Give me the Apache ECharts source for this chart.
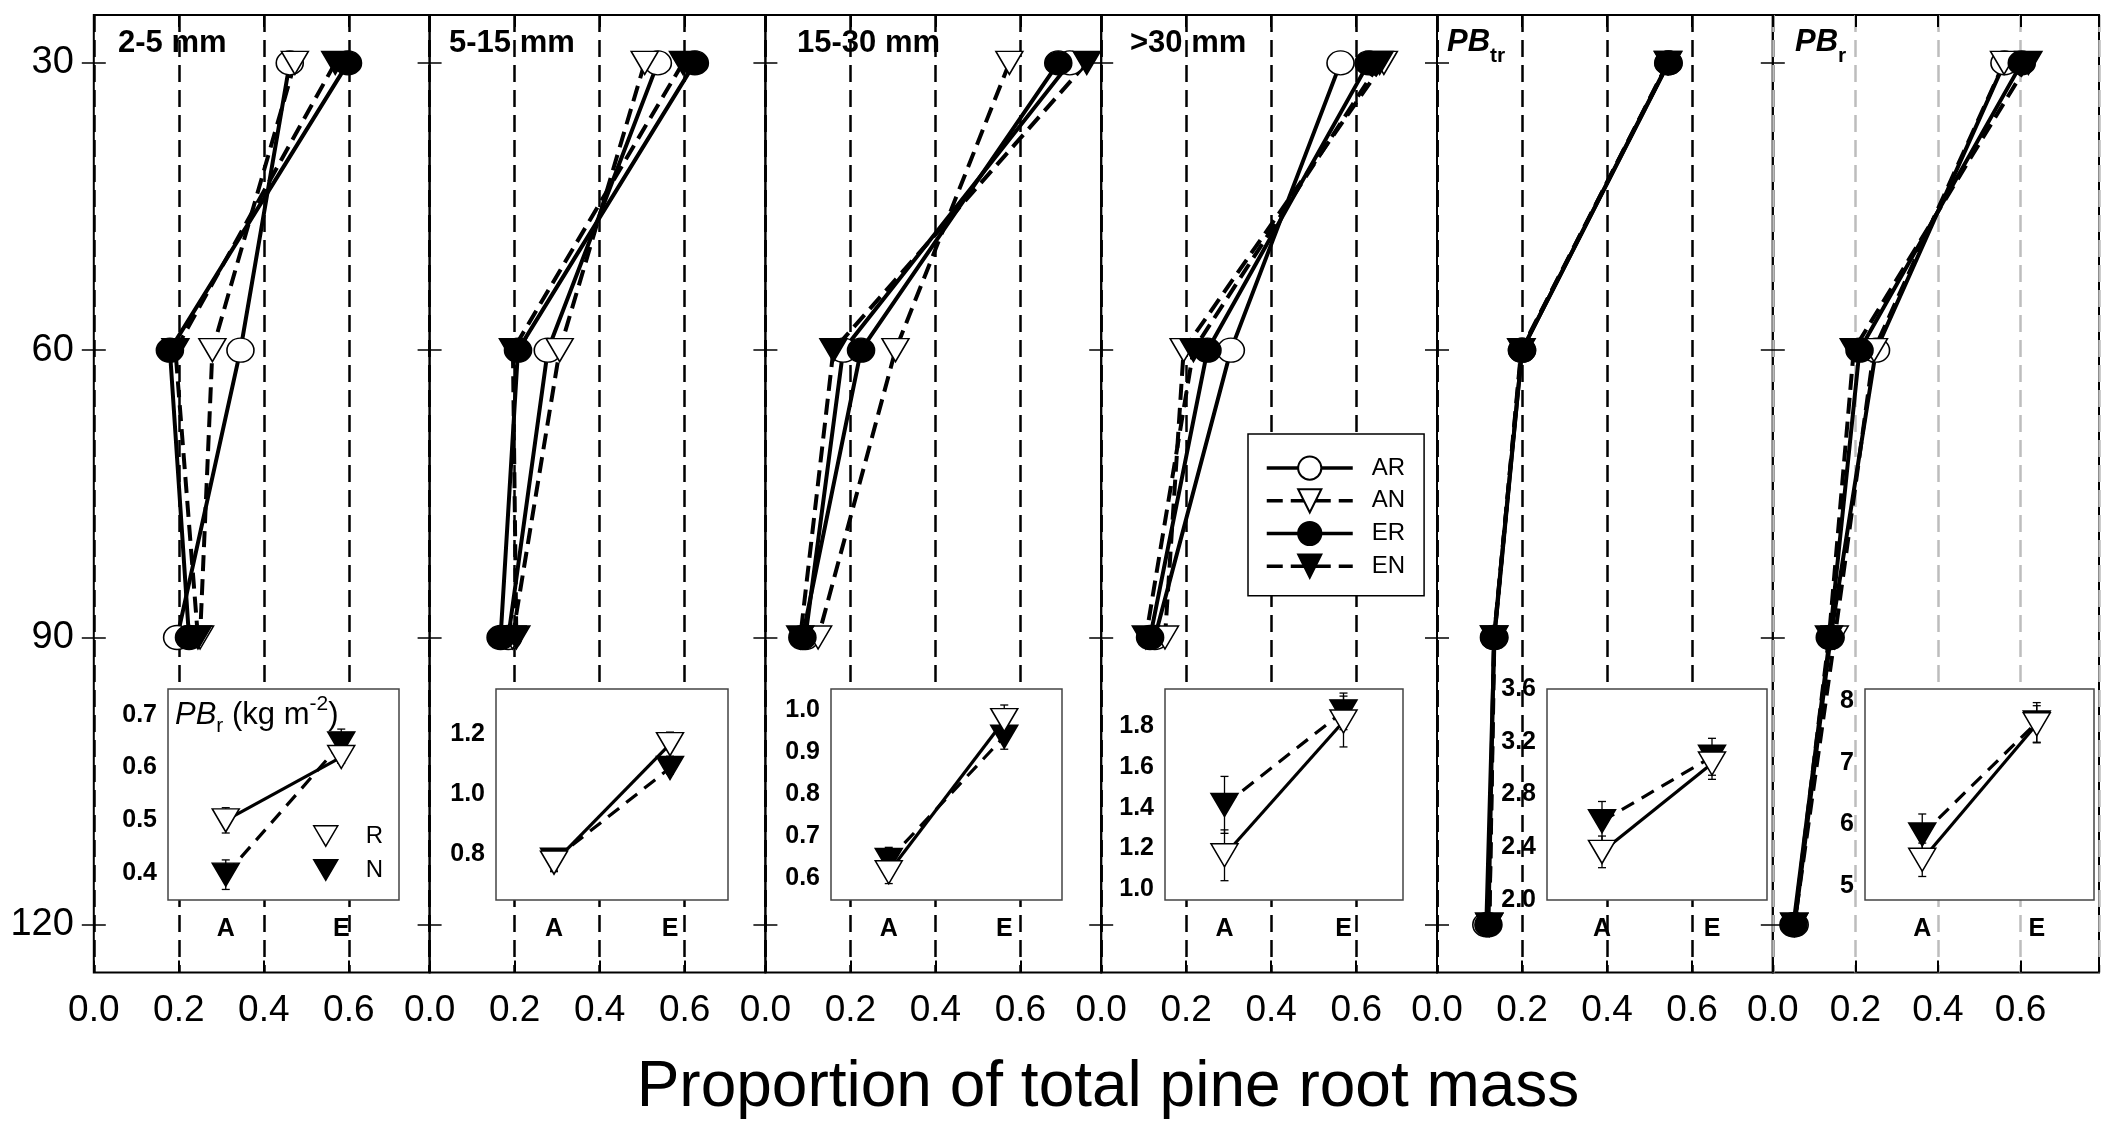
<!DOCTYPE html>
<html>
<head>
<meta charset="utf-8">
<title>Proportion of total pine root mass</title>
<script src="https://cdn.jsdelivr.net/npm/echarts@6/dist/echarts.min.js"></script>
<style>
  html, body { margin: 0; padding: 0; background: #fff; }
  #chart { width: 2102px; height: 1131px; }
</style>
</head>
<body>
<div id="chart"></div>
<script>
// soil depth (cm) of each layer and the ticks on the depth axis
const depths = [30, 60, 90, 120];
const depthTicks = [30, 60, 90, 120];
const treatments = ['AR', 'AN', 'ER', 'EN'];

// share of total pine root mass per layer; one row per panel:
// 2-5 mm, 5-15 mm, 15-30 mm, >30 mm, PBtr, PBr
const shareAR = [
  [0.461, 0.345, 0.196],
  [0.537, 0.278, 0.185],
  [0.716, 0.183, 0.094],
  [0.563, 0.305, 0.126],
  [0.544, 0.200, 0.135, 0.116],
  [0.561, 0.250, 0.140, 0.053]
];
const shareAN = [
  [0.473, 0.279, 0.250],
  [0.506, 0.306, 0.195],
  [0.574, 0.306, 0.124],
  [0.665, 0.194, 0.150],
  [0.543, 0.199, 0.134, 0.123],
  [0.560, 0.245, 0.150, 0.052]
];
const shareER = [
  [0.598, 0.179, 0.224],
  [0.624, 0.208, 0.167],
  [0.689, 0.225, 0.087],
  [0.629, 0.250, 0.115],
  [0.545, 0.200, 0.134, 0.121],
  [0.603, 0.210, 0.138, 0.050]
];
const shareEN = [
  [0.568, 0.192, 0.245],
  [0.596, 0.196, 0.204],
  [0.756, 0.160, 0.082],
  [0.655, 0.217, 0.105],
  [0.544, 0.198, 0.135, 0.123],
  [0.619, 0.196, 0.136, 0.052]
];

// inset: pine root biomass (kg m-2) for A and E, R and N, with error
const insetCats = ['A', 'E'];
const pbR = [[0.500, 0.620], [0.772, 1.165], [0.614, 0.975], [1.167, 1.825], [2.365, 3.035], [5.43, 7.62]];
const pbRErr = [[0.024, 0.012], [0.030, 0.040], [0.027, 0.036], [0.125, 0.125], [0.120, 0.120], [0.27, 0.30]];
const pbN = [[0.397, 0.646], [0.782, 1.086], [0.643, 0.936], [1.415, 1.875], [2.597, 3.086], [5.84, 7.65]];
const pbNErr = [[0.028, 0.027], [0.035, 0.020], [0.030, 0.030], [0.140, 0.090], [0.150, 0.140], [0.33, 0.32]];
const insetTicks = [
  [0.4, 0.5, 0.6, 0.7],
  [0.8, 1.0, 1.2],
  [0.6, 0.7, 0.8, 0.9, 1.0],
  [1.0, 1.2, 1.4, 1.6, 1.8],
  [2.0, 2.4, 2.8, 3.2, 3.6],
  [5, 6, 7, 8]
];

// ---- layout ----
const FONT = '"Liberation Sans", Arial, Helvetica, sans-serif';
const PANEL_LEFT = 93.8, PANEL_W = 335.8, PANEL_TOP = 15, PANEL_H = 957.6;
const X_MAX = 0.79;
const insetBox = [[168, 231], [496, 232], [831, 231], [1165, 238], [1547, 220], [1865, 229]];
const insetRange = [[0.349, 0.749], [0.648, 1.348], [0.548, 1.049], [0.947, 1.985], [2.0, 3.6], [4.78, 8.19]];
const INSET_TOP = 689, INSET_H = 211;
const TRI = 'path://M0,0L20,0L10,17Z';
const DASH = [16, 8];

const look = {
  AR: { symbol: 'circle', size: [27, 24], fill: '#fff', dash: 'solid' },
  AN: { symbol: TRI, size: [27, 23], fill: '#fff', dash: DASH },
  ER: { symbol: 'circle', size: [27, 24], fill: '#000', dash: 'solid' },
  EN: { symbol: TRI, size: [27, 23], fill: '#000', dash: DASH }
};
const shares = { AR: shareAR, AN: shareAN, ER: shareER, EN: shareEN };
const drawOrder = ['AR', 'AN', 'EN', 'ER'];

const grids = [], xAxes = [], yAxes = [], series = [];

function errorBars(params, api) {
  const lo = api.coord([api.value(0), api.value(1)]);
  const hi = api.coord([api.value(0), api.value(2)]);
  const st = { stroke: '#000', lineWidth: 1.3 };
  return {
    type: 'group',
    children: [
      { type: 'line', shape: { x1: lo[0], y1: lo[1], x2: hi[0], y2: hi[1] }, style: st },
      { type: 'line', shape: { x1: lo[0] - 4, y1: lo[1], x2: lo[0] + 4, y2: lo[1] }, style: st },
      { type: 'line', shape: { x1: hi[0] - 4, y1: hi[1], x2: hi[0] + 4, y2: hi[1] }, style: st }
    ]
  };
}

for (let i = 0; i < 6; i++) {
  // main panel
  const g = grids.length;
  grids.push({
    left: PANEL_LEFT + i * PANEL_W, top: PANEL_TOP, width: PANEL_W, height: PANEL_H,
    show: true, borderColor: '#000', borderWidth: 2, backgroundColor: 'transparent'
  });
  const xb = xAxes.length;
  xAxes.push({
    gridIndex: g, type: 'value', position: 'bottom', min: 0, max: X_MAX, interval: 0.2,
    axisLine: { show: false },
    axisTick: { inside: true, length: 12, lineStyle: { color: '#000', width: 2 } },
    splitLine: { show: true, lineStyle: { color: i === 5 ? '#bdbdbd' : '#000', width: 2.5, type: [17, 8] } },
    axisLabel: {
      margin: 20, fontSize: 37, color: '#000', fontFamily: FONT,
      formatter: v => (v > 0.7 ? '' : v.toFixed(1))
    }
  });
  xAxes.push({
    gridIndex: g, type: 'value', position: 'top', min: 0, max: X_MAX, interval: 0.2,
    axisLine: { show: false }, splitLine: { show: false }, axisLabel: { show: false },
    axisTick: { inside: true, length: 12, lineStyle: { color: '#000', width: 2 } }
  });
  const yl = yAxes.length;
  yAxes.push({
    gridIndex: g, type: 'value', position: 'left', inverse: true, min: 25, max: 125, z: 1,
    axisLine: { show: false }, splitLine: { show: false },
    axisTick: { inside: true, length: 12, customValues: depthTicks, lineStyle: { color: '#000', width: 1.5 } },
    axisLabel: {
      show: i === 0, customValues: depthTicks, margin: 20, fontSize: 38, color: '#000', fontFamily: FONT
    }
  });
  yAxes.push({
    gridIndex: g, type: 'value', position: 'right', inverse: true, min: 25, max: 125, z: 1,
    axisLine: { show: false }, splitLine: { show: false }, axisLabel: { show: false },
    axisTick: { inside: true, length: 12, customValues: depthTicks, lineStyle: { color: '#000', width: 1.5 } }
  });
  if (i === 0) {
    yAxes.push({
      gridIndex: g, type: 'value', position: 'left', inverse: true, min: 25, max: 125, z: 1,
      axisLine: { show: false }, splitLine: { show: false }, axisLabel: { show: false },
      axisTick: { inside: false, length: 8, customValues: depthTicks, lineStyle: { color: '#000', width: 1.5 } }
    });
  }

  drawOrder.forEach(name => {
    const lk = look[name];
    series.push({
      name: name, type: 'line', xAxisIndex: xb, yAxisIndex: yl, z: 2,
      data: shares[name][i].map((v, k) => [v, depths[k]]),
      symbol: lk.symbol, symbolSize: lk.size, showAllSymbol: true,
      lineStyle: { color: '#000', width: 4, type: lk.dash },
      itemStyle: { color: lk.fill, borderColor: '#000', borderWidth: 1.5 },
      emphasis: { disabled: true }
    });
  });

  // inset panel
  const ig = grids.length;
  grids.push({
    left: insetBox[i][0], top: INSET_TOP, width: insetBox[i][1], height: INSET_H, z: 10,
    show: true, backgroundColor: '#fff', borderColor: '#444', borderWidth: 1.5
  });
  const ix = xAxes.length;
  xAxes.push({
    gridIndex: ig, type: 'category', data: insetCats, position: 'bottom', z: 11,
    axisLine: { show: false },
    axisTick: { inside: true, length: 7, alignWithLabel: true, lineStyle: { color: '#444', width: 1.5 } },
    axisLabel: { margin: 17, fontSize: 25, fontWeight: 'bold', color: '#000', fontFamily: FONT }
  });
  xAxes.push({
    gridIndex: ig, type: 'category', data: insetCats, position: 'top', z: 11,
    axisLine: { show: false }, axisLabel: { show: false },
    axisTick: { inside: true, length: 7, alignWithLabel: true, lineStyle: { color: '#444', width: 1.5 } }
  });
  const iy = yAxes.length;
  const dec = i === 5 ? 0 : 1;
  yAxes.push({
    gridIndex: ig, type: 'value', position: 'left', min: insetRange[i][0], max: insetRange[i][1], z: 11,
    axisLine: { show: false }, splitLine: { show: false },
    axisTick: { inside: true, length: 7, customValues: insetTicks[i], lineStyle: { color: '#444', width: 1.5 } },
    axisLabel: {
      customValues: insetTicks[i], margin: 11, fontSize: 25, fontWeight: 'bold', color: '#000', fontFamily: FONT,
      formatter: v => v.toFixed(dec)
    }
  });
  yAxes.push({
    gridIndex: ig, type: 'value', position: 'right', min: insetRange[i][0], max: insetRange[i][1], z: 11,
    axisLine: { show: false }, splitLine: { show: false }, axisLabel: { show: false },
    axisTick: { inside: true, length: 7, customValues: insetTicks[i], lineStyle: { color: '#444', width: 1.5 } }
  });

  [['N', pbN, pbNErr], ['R', pbR, pbRErr]].forEach(([name, vals, errs]) => {
    series.push({
      type: 'custom', xAxisIndex: ix, yAxisIndex: iy, z: 12, silent: true,
      renderItem: errorBars, encode: { x: 0, y: [1, 2] },
      data: vals[i].map((v, k) => [k, v - errs[i][k], v + errs[i][k]])
    });
  });
  [['N', pbN, '#000', [14, 9]], ['R', pbR, '#fff', 'solid']].forEach(([name, vals, fill, dash]) => {
    series.push({
      name: name, type: 'line', xAxisIndex: ix, yAxisIndex: iy, z: 13,
      data: vals[i], symbol: TRI, symbolSize: [27, 23],
      lineStyle: { color: '#000', width: 3.2, type: dash },
      itemStyle: { color: fill, borderColor: '#000', borderWidth: 1.5 },
      emphasis: { disabled: true }
    });
  });
}

const titleFont = { fontFamily: FONT, fontSize: 31, fontWeight: 'bold', color: '#000', lineHeight: 31 };
const subRich = {
  pb: { fontFamily: FONT, fontSize: 31, fontWeight: 'bold', fontStyle: 'italic', color: '#000', lineHeight: 49 },
  sub: { fontFamily: FONT, fontSize: 21, fontWeight: 'bold', color: '#000', lineHeight: 21, verticalAlign: 'bottom' }
};

const titles = [
  { text: '2-5 mm', left: 118, top: 28, padding: 0, textStyle: titleFont },
  { text: '5-15 mm', left: 449, top: 28, padding: 0, textStyle: titleFont },
  { text: '15-30 mm', left: 797, top: 28, padding: 0, textStyle: titleFont },
  { text: '>30 mm', left: 1130, top: 28, padding: 0, textStyle: titleFont },
  { text: '{pb|PB}{sub|tr}', left: 1447, top: 18, padding: 0, textStyle: { rich: subRich } },
  { text: '{pb|PB}{sub|r}', left: 1795, top: 18, padding: 0, textStyle: { rich: subRich } },
  {
    text: '{pb|PB}{sub|r}{t| (kg m}{sup|-2}{t|)}', left: 175, top: 694, padding: 0, z: 20,
    textStyle: {
      fontWeight: 'normal',
      rich: {
        pb: { fontFamily: FONT, fontSize: 31, fontStyle: 'italic', fontWeight: 'normal', color: '#000', lineHeight: 43 },
        sub: { fontFamily: FONT, fontSize: 21, fontWeight: 'normal', color: '#000', lineHeight: 21, verticalAlign: 'bottom' },
        t: { fontFamily: FONT, fontSize: 31, fontWeight: 'normal', color: '#000', lineHeight: 43 },
        sup: { fontFamily: FONT, fontSize: 21, fontWeight: 'normal', color: '#000', lineHeight: 26, verticalAlign: 'top' }
      }
    }
  },
  {
    text: 'Proportion of total pine root mass', left: 1108, top: 1056, padding: 0, textAlign: 'center',
    textStyle: { fontFamily: FONT, fontSize: 64, fontWeight: 'normal', color: '#000', lineHeight: 64 }
  }
];

const option = {
  animation: false,
  backgroundColor: '#fff',
  title: titles,
  legend: [
    {
      data: treatments, orient: 'vertical', left: 1248, top: 434,
      padding: [21.5, 19, 17, 17], itemWidth: 86, itemHeight: 29, itemGap: 7.5,
      borderColor: '#000', borderWidth: 1.5, backgroundColor: '#fff', borderRadius: 0,
      selectedMode: false, lineStyle: { width: 3.5 },
      textStyle: { fontFamily: FONT, fontSize: 24, color: '#000', padding: [0, 0, 0, 14] }
    },
    {
      data: ['R', 'N'], orient: 'vertical', left: 313, top: 824, padding: 0, z: 20,
      icon: TRI, itemWidth: 24, itemHeight: 21, itemGap: 10,
      selectedMode: false, itemStyle: { borderColor: '#000', borderWidth: 1.5 },
      textStyle: { fontFamily: FONT, fontSize: 24, color: '#000', padding: [0, 0, 0, 23] }
    }
  ],
  grid: grids,
  xAxis: xAxes,
  yAxis: yAxes,
  series: series
};

const chart = echarts.init(document.getElementById('chart'));
chart.setOption(option);
</script>
</body>
</html>
